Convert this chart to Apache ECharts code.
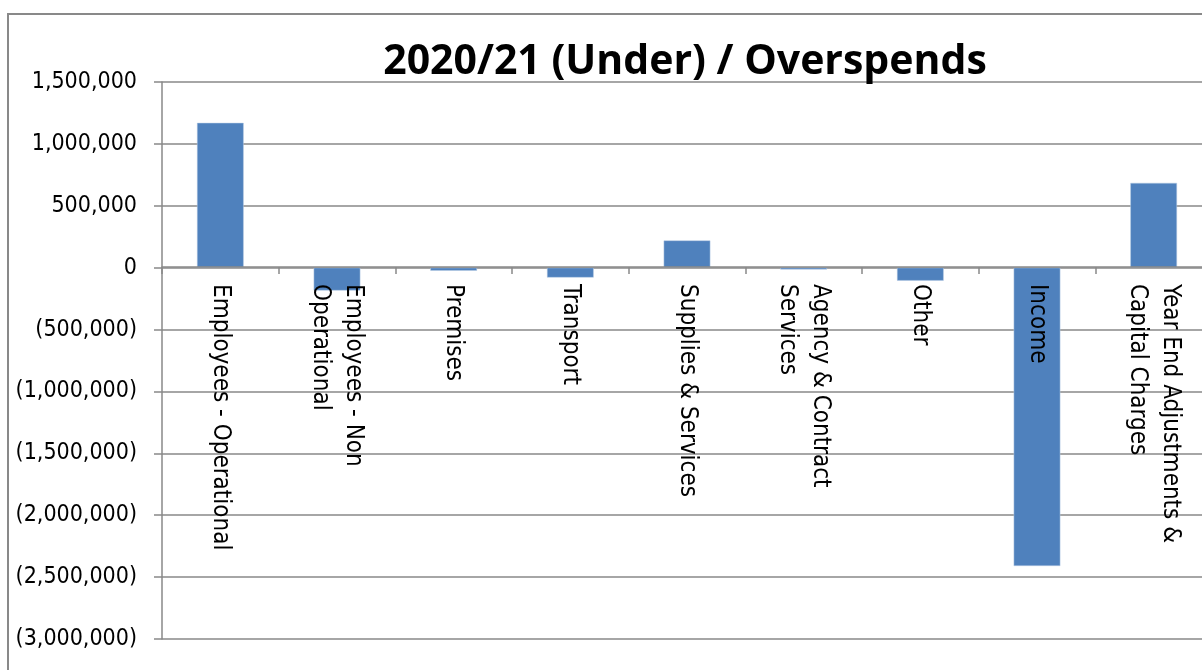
<!DOCTYPE html>
<html>
<head>
<meta charset="utf-8">
<script src="https://cdn.jsdelivr.net/npm/echarts@6/dist/echarts.min.js"></script>
<style>
html, body { margin: 0; padding: 0; background: #fff; }
#chart { width: 1202px; height: 670px; }
</style>
</head>
<body>
<div id="chart"></div>
<script>
var categories = [
	'Employees - Operational',
	'Employees - Non\nOperational',
	'Premises',
	'Transport',
	'Supplies & Services',
	'Agency & Contract\nServices',
	'Other',
	'Income',
	'Year End Adjustments &\nCapital Charges'
];
var overspend = [1170000, -185000, -25000, -80000, 220000, -15000, -105000, -2410000, 685000];

var gridColor = '#898989';
var labelFont = 'DejaVu Sans Condensed';

function fmt(v) {
	var s = Math.abs(v).toString().replace(/\B(?=(\d{3})+(?!\d))/g, ',');
	return v < 0 ? '(' + s + ')' : s;
}

var chart = echarts.init(document.getElementById('chart'));

// the category axis sits on the zero line: 6 steps of 62px above the grid bottom
var zeroOffset = -372;

var option = {
	animation: false,
	title: {
		text: '2020/21 (Under) / Overspends',
		left: 680,
		textAlign: 'center',
		top: 37,
		textStyle: {
			fontFamily: 'Open Sans',
			fontSize: 41,
			fontWeight: 'bold',
			color: '#000'
		}
	},
	graphic: [{
		type: 'rect',
		silent: true,
		z: -10,
		shape: { x: 8, y: 14, width: 1300, height: 700 },
		style: { fill: 'none', stroke: gridColor, lineWidth: 2 }
	}],
	grid: {
		left: 162,
		top: 82,
		right: -10,
		bottom: 31,
		outerBoundsMode: 'none',
		containLabel: false
	},
	xAxis: {
		type: 'category',
		data: categories,
		offset: zeroOffset,
		z: 10,
		axisLine: {
			onZero: false,
			lineStyle: { color: gridColor, width: 1.5 }
		},
		axisTick: {
			show: true,
			length: 7,
			lineStyle: { color: gridColor, width: 1.5 }
		},
		axisLabel: {
			rotate: -90,
			margin: 17,
			interval: 0,
			hideOverlap: false,
			fontFamily: labelFont,
			fontSize: 24,
			lineHeight: 33,
			color: '#000'
		},
		splitLine: { show: false }
	},
	yAxis: {
		type: 'value',
		min: -3000000,
		max: 1500000,
		interval: 500000,
		axisLine: {
			show: true,
			lineStyle: { color: gridColor, width: 1.5 }
		},
		axisTick: {
			show: true,
			length: 8,
			lineStyle: { color: gridColor, width: 1.5 }
		},
		axisLabel: {
			margin: 25,
			fontFamily: labelFont,
			fontSize: 23,
			color: '#000',
			formatter: fmt
		},
		splitLine: {
			lineStyle: { color: gridColor, width: 1.5 }
		}
	},
	series: [{
		type: 'bar',
		data: overspend,
		barWidth: '40%',
		itemStyle: {
			color: '#4F81BD',
			borderColor: '#b9cde5',
			borderWidth: 0.5
		}
	}]
};

chart.setOption(option);
</script>
</body>
</html>
